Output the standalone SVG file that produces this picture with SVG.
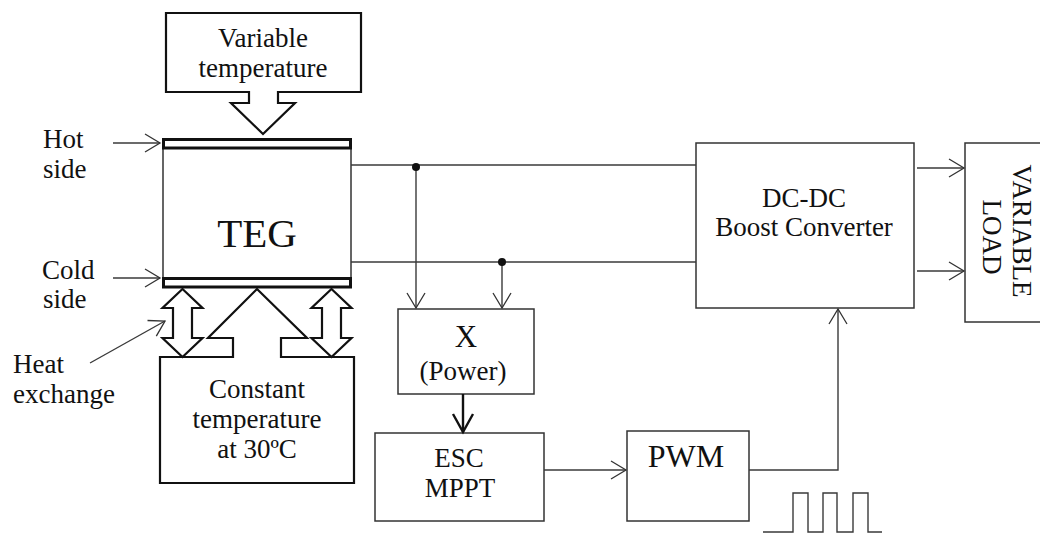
<svg xmlns="http://www.w3.org/2000/svg" width="1040" height="534" viewBox="0 0 1040 534">
  <defs>
    <marker id="arr" markerUnits="userSpaceOnUse" markerWidth="24" markerHeight="24" viewBox="-20 -12 24 24" refX="0" refY="0" orient="auto">
      <path d="M-15,-9 L0,0 L-15,9" fill="none" stroke="#333" stroke-width="1.3"/>
    </marker>
    <marker id="arrB" markerUnits="userSpaceOnUse" markerWidth="26" markerHeight="26" viewBox="-22 -13 26 26" refX="0" refY="0" orient="auto">
      <path d="M-18,-10 L0,0 L-18,10" fill="none" stroke="#111" stroke-width="2.4"/>
    </marker>
  </defs>
  <style>
    text { font-family: "Liberation Serif", "Times New Roman", serif; fill: #111; }
    .t27 { font-size: 27px; }
    .mid { text-anchor: middle; }
    .box { fill: #fff; stroke: #333; stroke-width: 1.5; }
    .heavy { fill: #fff; stroke: #111; stroke-width: 2.2; stroke-linejoin: miter; }
    .plate { fill: #fff; stroke: #111; stroke-width: 3; }
    .wire { fill: none; stroke: #3a3a3a; stroke-width: 1.4; }
  </style>

  <g id="variable-temperature">
    <path class="heavy" d="M166,13 H361 V92 H278 V103 H295 L263,134 L231,103 H249 V92 H166 Z"/>
    <text class="t27 mid" x="263" y="47">Variable</text>
    <text class="t27 mid" x="263" y="77">temperature</text>
  </g>

  <g id="teg">
    <rect class="box" x="163" y="148" width="188" height="130"/>
    <rect class="plate" x="163.5" y="139.5" width="187" height="8.5"/>
    <rect class="plate" x="163.5" y="278.5" width="187" height="8.5"/>
    <text class="mid" x="257" y="247" font-size="41">TEG</text>
  </g>

  <g id="labels">
    <text class="t27" x="43" y="148">Hot</text>
    <text class="t27" x="43" y="178">side</text>
    <text class="t27" x="42" y="279">Cold</text>
    <text class="t27" x="43" y="308">side</text>
    <text class="t27" x="13" y="373">Heat</text>
    <text class="t27" x="13" y="403">exchange</text>
  </g>

  <g id="constant-temperature">
    <path class="heavy" d="M160,357 H233 V338 H208 L257,289 L307,338 H281 V357 H354 V483 H160 Z"/>
    <path class="heavy" d="M182.5,289 L202.5,308 H192 V338 H202.5 L182.5,357 L162.5,338 H173 V308 H162.5 Z"/>
    <path class="heavy" d="M331.5,289 L351.5,308 H341 V338 H351.5 L331.5,357 L311.5,338 H322 V308 H311.5 Z"/>
    <text class="t27 mid" x="257" y="398">Constant</text>
    <text class="t27 mid" x="257" y="428">temperature</text>
    <text class="t27 mid" x="257" y="458">at 30ºC</text>
  </g>

  <g id="x-power">
    <rect class="box" x="398" y="309" width="136" height="85"/>
    <text class="mid" x="466" y="347" font-size="31">X</text>
    <text class="t27 mid" x="463" y="380">(Power)</text>
  </g>

  <g id="esc-mppt">
    <rect class="box" x="375" y="433" width="169" height="88"/>
    <text class="t27 mid" x="459" y="467">ESC</text>
    <text class="t27 mid" x="460" y="497">MPPT</text>
  </g>

  <g id="pwm">
    <rect class="box" x="627" y="431" width="122" height="90"/>
    <text class="mid" x="686" y="467" font-size="32">PWM</text>
  </g>

  <g id="dc-dc">
    <rect class="box" x="696" y="143" width="218" height="165"/>
    <text class="t27 mid" x="804" y="207">DC-DC</text>
    <text class="t27 mid" x="804" y="236">Boost Converter</text>
  </g>

  <g id="variable-load">
    <rect class="box" x="965" y="143" width="90" height="179"/>
    <text class="t27 mid" transform="translate(1013,231) rotate(90)" x="0" y="0">VARIABLE</text>
    <text class="t27 mid" transform="translate(983,237) rotate(90)" x="0" y="0">LOAD</text>
  </g>

  <g id="connectors">
    <line class="wire" x1="113" y1="143" x2="160" y2="143" marker-end="url(#arr)"/>
    <line class="wire" x1="113" y1="278" x2="160" y2="278" marker-end="url(#arr)"/>
    <line class="wire" x1="90" y1="363" x2="165" y2="321" marker-end="url(#arr)"/>
    <line class="wire" x1="351" y1="165" x2="696" y2="165"/>
    <line class="wire" x1="351" y1="262" x2="696" y2="262"/>
    <line class="wire" x1="416" y1="166" x2="416" y2="308" marker-end="url(#arr)"/>
    <line class="wire" x1="502" y1="262" x2="502" y2="308" marker-end="url(#arr)"/>
    <circle cx="416" cy="167" r="4" fill="#111"/>
    <circle cx="502" cy="262" r="4" fill="#111"/>
    <line x1="463" y1="394" x2="463" y2="432" stroke="#111" stroke-width="2.4" marker-end="url(#arrB)"/>
    <line class="wire" x1="544" y1="470" x2="626" y2="470" marker-end="url(#arr)"/>
    <polyline class="wire" points="749,470 838,470 838,309" marker-end="url(#arr)"/>
    <line class="wire" x1="917" y1="168" x2="964" y2="168" marker-end="url(#arr)"/>
    <line class="wire" x1="917" y1="271" x2="964" y2="271" marker-end="url(#arr)"/>
    <polyline class="wire" points="763,532 793,532 793,493 808,493 808,532 823,532 823,493 837,493 837,532 853,532 853,493 868,493 868,532 882,532"/>
  </g>
</svg>
